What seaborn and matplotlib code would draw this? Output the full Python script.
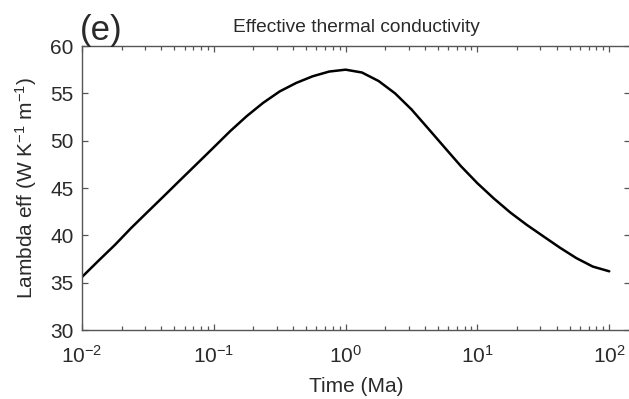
import matplotlib
matplotlib.use("Agg")
import matplotlib.pyplot as plt
import seaborn as sns
import pandas as pd
import numpy as np

# Time (Ma), eighth-decade spacing, and effective thermal conductivity (W K^-1 m^-1)
time_ma = [0.01, 0.0133, 0.0178, 0.0237, 0.0316, 0.0422, 0.0562, 0.075,
           0.1, 0.133, 0.178, 0.237, 0.316, 0.422, 0.562, 0.75,
           1.0, 1.33, 1.78, 2.37, 3.16, 4.22, 5.62, 7.5,
           10.0, 13.3, 17.8, 23.7, 31.6, 42.2, 56.2, 75.0, 100.0]
lambda_eff = [35.6, 37.3, 39.0, 40.8, 42.5, 44.2, 45.9, 47.6,
              49.3, 51.0, 52.6, 54.0, 55.2, 56.1, 56.8, 57.3,
              57.5, 57.2, 56.3, 55.0, 53.3, 51.3, 49.3, 47.3,
              45.5, 43.9, 42.4, 41.1, 39.9, 38.7, 37.6, 36.7, 36.2]

x_ticks = [1e-2, 1e-1, 1e0, 1e1, 1e2]
y_ticks = [30, 35, 40, 45, 50, 55, 60]

df = pd.DataFrame({"time": time_ma, "lam": lambda_eff})

sns.set_theme(style="ticks")
plt.rcParams["font.family"] = ["Liberation Sans", "DejaVu Sans"]
plt.rcParams["mathtext.fontset"] = "custom"
plt.rcParams["mathtext.rm"] = "Liberation Sans"
plt.rcParams["mathtext.it"] = "Liberation Sans:italic"
plt.rcParams["mathtext.bf"] = "Liberation Sans:bold"

text_color = "#2a2a2a"
axis_color = "#555555"

fig = plt.figure(figsize=(6.29, 3.99), dpi=100)
W, H = 629, 399
left, right, top, bottom = 82, 630, 46, 330
ax = fig.add_axes([left / W, (H - bottom) / H, (right - left) / W, (bottom - top) / H])

sns.lineplot(data=df, x="time", y="lam", ax=ax, color="black", linewidth=1.8)

ax.set_xscale("log")
dec = (609.3 - 83.3) / 4.0
ax.set_xlim(1e-2, 10 ** (2 + (right - 609.3) / dec))
ax.set_ylim(30, 60)
ax.set_xticks(x_ticks)
ax.set_yticks(y_ticks)
ax.xaxis.set_minor_locator(matplotlib.ticker.LogLocator(base=10, subs=np.arange(2, 10)))
ax.xaxis.set_minor_formatter(matplotlib.ticker.NullFormatter())

ax.tick_params(which="both", direction="in", top=True, right=True,
               color=axis_color, width=0.9, labelcolor=text_color, labelsize=15)
ax.tick_params(which="major", length=4.5)
ax.tick_params(which="minor", length=2.8)
ax.tick_params(axis="x", which="major", pad=11)
ax.tick_params(axis="y", which="major", pad=6)
for s in ax.spines.values():
    s.set_color(axis_color)
    s.set_linewidth(1.0)

ax.set_xlabel("Time (Ma)", fontsize=15, color=text_color, labelpad=7)
ax.set_ylabel(r"Lambda eff (W K$^{-1}$ m$^{-1}$)", fontsize=15, color=text_color, labelpad=8)
ax.set_title("Effective thermal conductivity", fontsize=13.8, color=text_color, pad=10)
fig.text(80 / W, 1 - 40 / H, "(e)", fontsize=25, color=text_color, ha="left", va="baseline")

fig.savefig("out.png", dpi=100)
